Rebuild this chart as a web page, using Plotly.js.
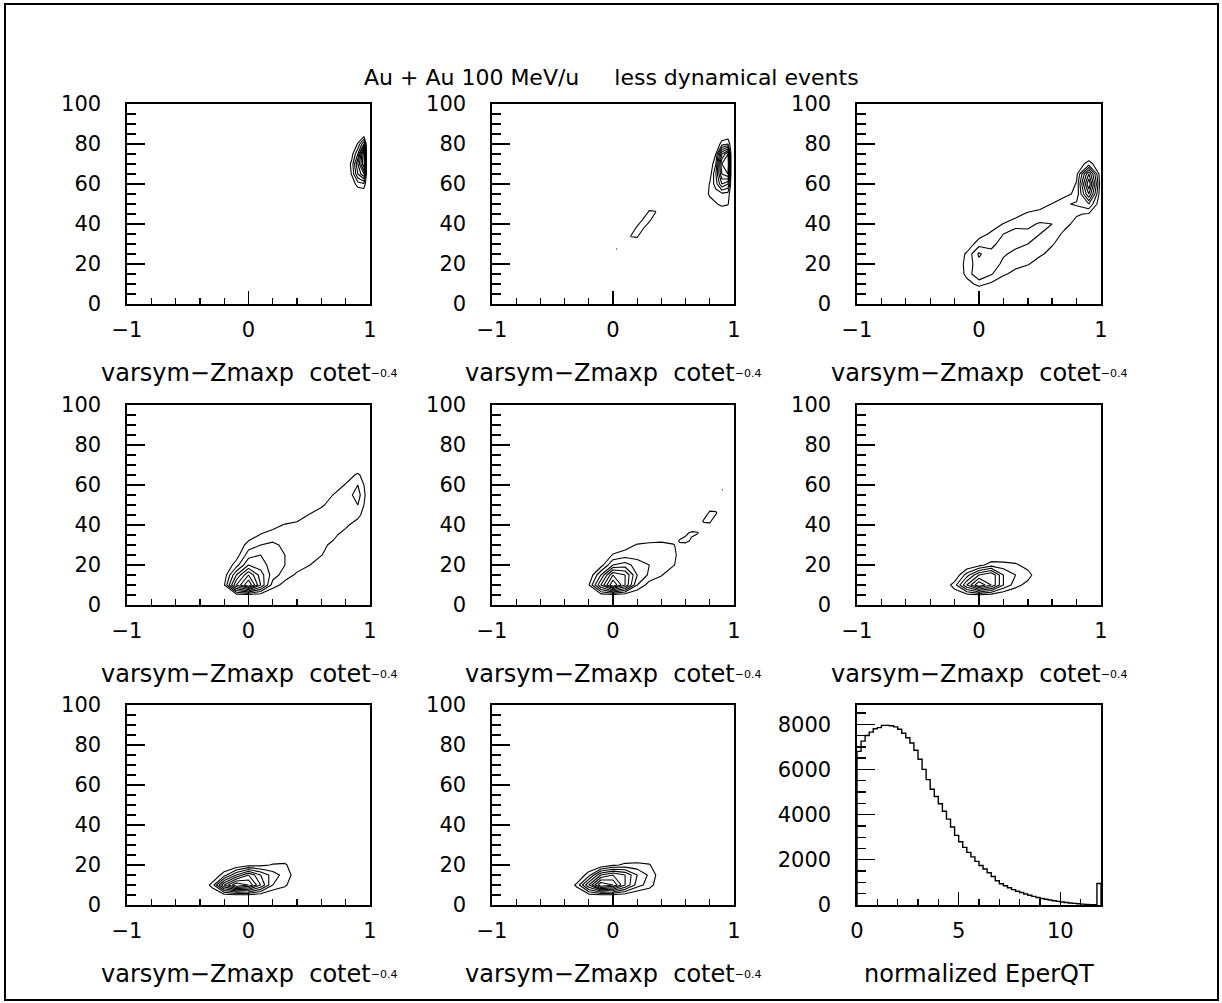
<!DOCTYPE html>
<html><head><meta charset="utf-8">
<script src="https://cdn.plot.ly/plotly-3.0.1.min.js"></script>
<style>html,body{margin:0;padding:0;background:#fff;}#chart{width:1222px;height:1003px;}</style>
</head><body><div id="chart"></div>
<script>
// ---------------- texts ----------------
const mainTitle = 'Au + Au 100 MeV/u\u00a0\u00a0\u00a0\u00a0\u00a0less dynamical events';
const contourXTitle = 'varsym\u2212Zmaxp\u00a0\u00a0cotet';
const contourXSuffix = '\u22120.4';
const histXTitle = 'normalized EperQT';
const contourXTickVals = [-1, 0, 1];
const contourXTickText = ['\u22121', '0', '1'];
const histXTickVals = [0, 5, 10];

// ---------------- panel 1 ----------------
const p1x = [0.8, 0.85, 0.9, 0.95, 0.975];
const p1y = [55, 60, 65, 70, 75, 80, 85];
const p1z = [
  [0, 0, 0, 0, 0],
  [0, 0.3, 1.5, 1.8, 0],
  [0, 1.1, 4, 6, 0],
  [0, 1.3, 5, 9, 0],
  [0, 0.6, 3, 9, 0],
  [0, 0, 1.1, 4, 0],
  [0, 0, 0, 0, 0]
];

// ---------------- panel 2 ----------------
const p2x = [0.75, 0.8, 0.85, 0.9, 0.95, 0.98];
const p2y = [45, 50, 55, 60, 65, 70, 75, 80, 85];
const p2z = [
  [0, 0, 0, 0, 0, 0],
  [0, 0.2, 0.9, 1.3, 1.1, 0],
  [0, 1.3, 1.5, 1.7, 1.6, 0],
  [0, 1.1, 2.5, 5, 4, 0],
  [0, 0.4, 3, 7, 8, 0],
  [0, 0, 2, 8, 9, 0],
  [0, 0, 1, 6, 8, 0],
  [0, 0, 0, 1.5, 2, 0],
  [0, 0, 0, 0, 0, 0]
];
const p2islandX = [0.1, 0.15, 0.2, 0.25, 0.3, 0.35, 0.4];
const p2islandY = [30, 34, 38, 42, 46, 50];
const p2islandZ = [
  [0, 0, 0, 0, 0, 0, 0],
  [0, 1.1, 1.2, 0, 0, 0, 0],
  [0, 0, 1.3, 1.1, 0, 0, 0],
  [0, 0, 0, 1.2, 1.3, 0, 0],
  [0, 0, 0, 0, 1.2, 1.1, 0],
  [0, 0, 0, 0, 0, 0, 0]
];
const p2dotX = [0.0, 0.03, 0.06];
const p2dotY = [26, 27.5, 29];
const p2dotZ = [[0, 0, 0], [0, 1.05, 0], [0, 0, 0]];

// ---------------- panel 3 ----------------
const p3x = [-0.2, -0.1, 0, 0.1, 0.2, 0.3, 0.4, 0.5, 0.6, 0.7, 0.8, 0.9, 1.0];
const p3y = [5, 10, 15, 20, 25, 30, 35, 40, 45, 50, 55, 60, 65, 70, 75, 80];
const p3z = [
  [0, 0, 0, 0, 0, 0, 0, 0, 0, 0, 0, 0, 0],
  [0, 0.6, 1.3, 0.8, 0, 0, 0, 0, 0, 0, 0, 0, 0],
  [0, 1.3, 3, 2.1, 1.2, 0.6, 0, 0, 0, 0, 0, 0, 0],
  [0, 1.4, 2.6, 2.5, 1.8, 1.4, 1.1, 0.4, 0, 0, 0, 0, 0],
  [0, 1.2, 3.2, 2.2, 2.1, 1.8, 1.5, 1.2, 0.6, 0, 0, 0, 0],
  [0, 0.2, 1.6, 1.8, 2.3, 2.2, 2, 1.6, 1.1, 0.4, 0, 0, 0],
  [0, 0, 0.5, 1.2, 2, 2.5, 2.2, 2, 1.5, 0.8, 0.2, 0, 0],
  [0, 0, 0, 0.4, 1.05, 1.6, 1.8, 2.1, 2, 1.3, 0.7, 0.3, 0],
  [0, 0, 0, 0, 0, 0.6, 1.2, 1.4, 1.8, 1.7, 1.1, 0.9, 0],
  [0, 0, 0, 0, 0, 0, 0, 0.5, 1.05, 1.8, 2.2, 3, 0],
  [0, 0, 0, 0, 0, 0, 0, 0, 0, 0.6, 1.3, 6, 0],
  [0, 0, 0, 0, 0, 0, 0, 0, 0, 0, 1.1, 8, 0],
  [0, 0, 0, 0, 0, 0, 0, 0, 0, 0, 0.7, 6, 0],
  [0, 0, 0, 0, 0, 0, 0, 0, 0, 0, 0.2, 1.5, 0],
  [0, 0, 0, 0, 0, 0, 0, 0, 0, 0, 0, 0, 0],
  [0, 0, 0, 0, 0, 0, 0, 0, 0, 0, 0, 0, 0]
];

// ---------------- panel 4 ----------------
const p4x = [-0.3, -0.2, -0.1, 0, 0.1, 0.2, 0.3, 0.4, 0.5, 0.6, 0.7, 0.8, 0.9, 1.0];
const p4y = [0, 5, 10, 15, 20, 25, 30, 35, 40, 45, 50, 55, 60, 65, 70];
const p4z = [
  [0, 0, 0, 0, 0, 0, 0, 0, 0, 0, 0, 0, 0, 0],
  [0, 0, 0.5, 0.6, 0.4, 0, 0, 0, 0, 0, 0, 0, 0, 0],
  [0, 0.9, 6, 9, 5, 1.5, 0.6, 0, 0, 0, 0, 0, 0, 0],
  [0, 0.3, 4, 7, 4.5, 2.5, 1.5, 0.8, 0, 0, 0, 0, 0, 0],
  [0, 0, 1.5, 4, 3.5, 2.5, 2, 1.5, 1.05, 0.3, 0, 0, 0, 0],
  [0, 0, 0.5, 2.5, 3, 2.5, 2, 1.6, 1.3, 1.05, 0.3, 0, 0, 0],
  [0, 0, 0, 1.5, 2, 2.2, 1.8, 1.5, 1.4, 1.2, 0.8, 0.4, 0, 0],
  [0, 0, 0, 0.3, 1.1, 1.5, 1.4, 1.5, 1.4, 1.3, 1.2, 0.6, 0.3, 0],
  [0, 0, 0, 0, 0, 0.6, 1.1, 1.2, 1.3, 1.4, 1.3, 1.2, 0.5, 0],
  [0, 0, 0, 0, 0, 0, 0, 0.6, 1.05, 1.3, 1.4, 1.5, 1.3, 0],
  [0, 0, 0, 0, 0, 0, 0, 0, 0.3, 0.9, 1.3, 1.6, 2, 0],
  [0, 0, 0, 0, 0, 0, 0, 0, 0, 0.3, 1.05, 1.4, 2.5, 0],
  [0, 0, 0, 0, 0, 0, 0, 0, 0, 0, 0.3, 1.1, 2, 0],
  [0, 0, 0, 0, 0, 0, 0, 0, 0, 0, 0, 0.4, 1.2, 0],
  [0, 0, 0, 0, 0, 0, 0, 0, 0, 0, 0, 0, 0, 0]
];

// ---------------- panel 5 ----------------
const p5x = [-0.3, -0.2, -0.1, 0, 0.1, 0.2, 0.3, 0.4, 0.5, 0.6];
const p5y = [0, 5, 10, 15, 20, 25, 30, 35];
const p5z = [
  [0, 0, 0, 0, 0, 0, 0, 0, 0, 0],
  [0, 0, 0.5, 0.6, 0.3, 0, 0, 0, 0, 0],
  [0, 0.9, 5, 9, 6, 2, 0.5, 0, 0, 0],
  [0, 0, 3, 7, 6, 3, 1.8, 1.1, 0, 0],
  [0, 0, 0.5, 3, 3.5, 2.5, 2, 1.5, 1.1, 0],
  [0, 0, 0, 1.1, 1.5, 1.6, 1.3, 1.2, 1.3, 0],
  [0, 0, 0, 0, 0.5, 1.1, 1.3, 1.4, 1.1, 0],
  [0, 0, 0, 0, 0, 0, 0, 0, 0, 0]
];
const p5islandAX = [0.5, 0.55, 0.6, 0.65, 0.7, 0.75];
const p5islandAY = [28, 32, 36, 40];
const p5islandAZ = [
  [0, 0, 0, 0, 0, 0],
  [0, 1.2, 1.3, 0.8, 0, 0],
  [0, 0, 0.8, 1.2, 1.1, 0],
  [0, 0, 0, 0, 0, 0]
];
const p5islandBX = [0.7, 0.75, 0.8, 0.85, 0.9];
const p5islandBY = [38, 42, 46, 50];
const p5islandBZ = [
  [0, 0, 0, 0, 0],
  [0, 1.2, 1.3, 0, 0],
  [0, 0, 1.3, 1.2, 0],
  [0, 0, 0, 0, 0]
];
const p5dotX = [0.88, 0.905, 0.93];
const p5dotY = [56, 57.5, 59];
const p5dotZ = [[0, 0, 0], [0, 1.05, 0], [0, 0, 0]];

// ---------------- panel 6 ----------------
const p6x = [-0.3, -0.2, -0.1, 0, 0.1, 0.2, 0.3, 0.4, 0.5];
const p6y = [0, 5, 10, 15, 20, 25];
const p6z = [
  [0, 0, 0, 0, 0, 0, 0, 0, 0],
  [0, 0.3, 0.6, 0.8, 0.5, 0, 0, 0, 0],
  [0, 1.5, 5, 8, 6, 3, 1.4, 0.6, 0],
  [0, 0, 2.5, 5, 6, 3, 2, 1.5, 0],
  [0, 0, 0, 0.6, 1.5, 1.4, 1.2, 0.5, 0],
  [0, 0, 0, 0, 0, 0, 0, 0, 0]
];

// ---------------- panel 7 ----------------
const p7x = [-0.4, -0.3, -0.2, -0.1, 0, 0.1, 0.2, 0.3, 0.4];
const p7y = [0, 5, 10, 15, 20, 25];
const p7z = [
  [0, 0, 0, 0, 0, 0, 0, 0, 0],
  [0, 0.2, 0.6, 0.8, 0.8, 0.4, 0, 0, 0],
  [0, 1.3, 6, 9, 8, 5, 2, 1.2, 0],
  [0, 0, 1.5, 4, 6, 4, 2.5, 1.6, 0.4],
  [0, 0, 0, 0, 0.6, 0.7, 1.1, 1.2, 0],
  [0, 0, 0, 0, 0, 0, 0, 0, 0]
];

// ---------------- panel 8 ----------------
const p8x = [-0.4, -0.3, -0.2, -0.1, 0, 0.1, 0.2, 0.3, 0.4];
const p8y = [0, 5, 10, 15, 20, 25];
const p8z = [
  [0, 0, 0, 0, 0, 0, 0, 0, 0],
  [0, 0.2, 0.6, 0.8, 0.8, 0.4, 0, 0, 0],
  [0, 1.2, 5, 9, 8, 5, 2.5, 1.5, 0],
  [0, 0, 1.5, 5, 6, 5, 3, 1.8, 0.3],
  [0, 0, 0, 0, 0.8, 1.2, 1.3, 1.1, 0],
  [0, 0, 0, 0, 0, 0, 0, 0, 0]
];

// ---------------- panel 9: histogram ----------------
const histStart = 0;
const histBinWidth = 0.2;
const histCounts = [
  6800, 7250, 7500, 7650, 7800, 7850, 7950, 7950, 7930, 7880,
  7780, 7600, 7400, 7170, 6850, 6450, 6000, 5550, 5120, 4800,
  4480, 4150, 3800, 3450, 3080, 2800, 2550, 2330, 2130, 1930,
  1750, 1590, 1430, 1260, 1070, 940, 850, 760, 680, 610,
  550, 490, 430, 380, 330, 290, 255, 220, 190, 160,
  135, 110, 90, 72, 55, 40, 28, 18, 10, 950
];

// ---------------- layout helpers ----------------
const W = 1222, H = 1003;
const FONT = 'DejaVu Sans';
const colPx = [[127, 370], [492, 734], [857, 1101]];
const rowPx = [[104, 304], [405, 605], [705, 905]];
const xDom = c => [colPx[c][0] / W, colPx[c][1] / W];
const yDom = r => [1 - rowPx[r][1] / H, 1 - rowPx[r][0] / H];
const sfx = n => (n === 1 ? '' : String(n));

const common = {
  showline: true, mirror: true, linecolor: 'black', linewidth: 1.6,
  showgrid: false, zeroline: false, ticks: 'inside', tickcolor: 'black',
  tickwidth: 1.4, fixedrange: true,
  tickfont: {family: FONT, size: 21, color: 'black'}
};

function contourTrace(xs, ys, zs, n) {
  return {
    type: 'contour', x: xs, y: ys, z: zs,
    xaxis: 'x' + sfx(n), yaxis: 'y' + sfx(n),
    autocontour: false,
    contours: {start: 1, end: 9, size: 1, coloring: 'none', showlabels: false},
    line: {color: 'black', width: 1.1, smoothing: 0},
    showscale: false, hoverinfo: 'skip'
  };
}

const traces = [
  contourTrace(p1x, p1y, p1z, 1),
  contourTrace(p2x, p2y, p2z, 2),
  contourTrace(p2islandX, p2islandY, p2islandZ, 2),
  contourTrace(p2dotX, p2dotY, p2dotZ, 2),
  contourTrace(p3x, p3y, p3z, 3),
  contourTrace(p4x, p4y, p4z, 4),
  contourTrace(p5x, p5y, p5z, 5),
  contourTrace(p5islandAX, p5islandAY, p5islandAZ, 5),
  contourTrace(p5islandBX, p5islandBY, p5islandBZ, 5),
  contourTrace(p5dotX, p5dotY, p5dotZ, 5),
  contourTrace(p6x, p6y, p6z, 6),
  contourTrace(p7x, p7y, p7z, 7),
  contourTrace(p8x, p8y, p8z, 8)
];

// histogram outline as steps
const hx = [histStart], hy = [0];
histCounts.forEach((c, i) => { hx.push(histStart + i * histBinWidth); hy.push(c); });
hx.push(histStart + histCounts.length * histBinWidth); hy.push(0);
traces.push({
  type: 'scatter', mode: 'lines', x: hx, y: hy, xaxis: 'x9', yaxis: 'y9',
  line: {color: 'black', width: 1.4, shape: 'hv'}, hoverinfo: 'skip'
});

const layout = {
  width: W, height: H, margin: {l: 0, r: 0, t: 0, b: 0},
  paper_bgcolor: 'white', plot_bgcolor: 'white', showlegend: false,
  font: {family: FONT, color: 'black'},
  annotations: [], shapes: []
};

for (let n = 1; n <= 9; n++) {
  const r = Math.floor((n - 1) / 3), c = (n - 1) % 3;
  const isHist = n === 9;
  layout['xaxis' + sfx(n)] = Object.assign({}, common, {
    domain: xDom(c), anchor: 'y' + sfx(n),
    range: isHist ? [0, 12] : [-1, 1],
    tickmode: 'array',
    tickvals: isHist ? histXTickVals : contourXTickVals,
    ticktext: isHist ? histXTickVals.map(String) : contourXTickText,
    ticklen: 13, ticklabelstandoff: 6,
    minor: {ticks: 'inside', ticklen: 6, tickwidth: 1.4, tickcolor: 'black',
            tickmode: 'linear', tick0: isHist ? 0 : -1, dtick: isHist ? 1 : 0.2, showgrid: false}
  });
  layout['yaxis' + sfx(n)] = Object.assign({}, common, {
    domain: yDom(r), anchor: 'x' + sfx(n),
    range: isHist ? [0, 8850] : [0, 100],
    tickmode: 'linear', tick0: 0, dtick: isHist ? 2000 : 20,
    ticklen: 18, ticklabelstandoff: 20,
    minor: {ticks: 'inside', ticklen: 9, tickwidth: 1.4, tickcolor: 'black',
            tickmode: 'linear', tick0: 0, dtick: isHist ? 500 : 5, showgrid: false}
  });
  const titleY = 1 - (rowPx[r][1] + 69) / H;
  layout.annotations.push({
    xref: 'paper', yref: 'paper',
    x: (colPx[c][0] + colPx[c][1]) / 2 / W, y: titleY,
    xanchor: 'center', yanchor: 'middle', showarrow: false,
    text: isHist ? histXTitle
                 : contourXTitle + '<span style="font-size:11px;baseline-shift:4px">' + contourXSuffix + '</span>',
    font: {family: FONT, size: 24, color: 'black'}
  });
}

layout.annotations.push({
  xref: 'paper', yref: 'paper', x: 0.5, y: 1 - 78 / H,
  xanchor: 'center', yanchor: 'middle', showarrow: false,
  text: mainTitle, font: {family: FONT, size: 22, color: 'black'}
});

layout.shapes.push({
  type: 'rect', xref: 'paper', yref: 'paper',
  x0: 5 / W, x1: 1218 / W, y0: 1 - 1000 / H, y1: 1 - 4 / H,
  line: {color: 'black', width: 2}, fillcolor: 'rgba(0,0,0,0)'
});

Plotly.newPlot('chart', traces, layout, {displayModeBar: false, staticPlot: true});
</script></body></html>
